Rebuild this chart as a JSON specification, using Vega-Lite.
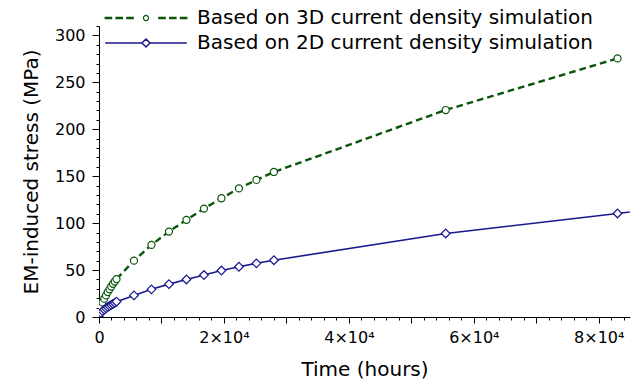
{
  "$schema": "https://vega.github.io/schema/vega-lite/v6.json",
  "width": 531,
  "height": 291,
  "autosize": {"type": "none"},
  "padding": {"left": 99, "top": 26, "right": 8, "bottom": 70},
  "background": "white",
  "config": {
    "font": "DejaVu Sans",
    "view": {"stroke": null},
    "axis": {
      "grid": false,
      "domainColor": "black",
      "tickColor": "black",
      "labelColor": "black",
      "titleColor": "black",
      "titleFontWeight": "normal",
      "labelFontSize": 16,
      "titleFontSize": 20,
      "domainWidth": 1,
      "tickWidth": 1
    }
  },
  "data": {
    "values": [
      {"series": "3D", "t": 0, "s": 0},
      {"series": "3D", "t": 280, "s": 11},
      {"series": "3D", "t": 560, "s": 15.5},
      {"series": "3D", "t": 840, "s": 19.5},
      {"series": "3D", "t": 1120, "s": 23},
      {"series": "3D", "t": 1400, "s": 26.5},
      {"series": "3D", "t": 1680, "s": 29.5},
      {"series": "3D", "t": 1960, "s": 32.5},
      {"series": "3D", "t": 2240, "s": 35.3},
      {"series": "3D", "t": 2520, "s": 37.8},
      {"series": "3D", "t": 2800, "s": 40.4},
      {"series": "3D", "t": 5600, "s": 60},
      {"series": "3D", "t": 8400, "s": 76.8},
      {"series": "3D", "t": 11200, "s": 91},
      {"series": "3D", "t": 14000, "s": 103.5},
      {"series": "3D", "t": 16800, "s": 115.5},
      {"series": "3D", "t": 19600, "s": 126.5},
      {"series": "3D", "t": 22400, "s": 137},
      {"series": "3D", "t": 25200, "s": 146},
      {"series": "3D", "t": 28000, "s": 154.5},
      {"series": "3D", "t": 55500, "s": 220.5},
      {"series": "3D", "t": 83000, "s": 275.5},
      {"series": "2D", "t": 0, "s": 0},
      {"series": "2D", "t": 280, "s": 4.2},
      {"series": "2D", "t": 560, "s": 6.2},
      {"series": "2D", "t": 840, "s": 7.8},
      {"series": "2D", "t": 1120, "s": 9.2},
      {"series": "2D", "t": 1400, "s": 10.5},
      {"series": "2D", "t": 1680, "s": 11.7},
      {"series": "2D", "t": 1960, "s": 12.8},
      {"series": "2D", "t": 2240, "s": 13.9},
      {"series": "2D", "t": 2520, "s": 15.0},
      {"series": "2D", "t": 2800, "s": 16.3},
      {"series": "2D", "t": 5600, "s": 23},
      {"series": "2D", "t": 8400, "s": 29.5},
      {"series": "2D", "t": 11200, "s": 35},
      {"series": "2D", "t": 14000, "s": 40},
      {"series": "2D", "t": 16800, "s": 44.7},
      {"series": "2D", "t": 19600, "s": 49.5},
      {"series": "2D", "t": 22400, "s": 53.5},
      {"series": "2D", "t": 25200, "s": 57.2},
      {"series": "2D", "t": 28000, "s": 60.5},
      {"series": "2D", "t": 55500, "s": 89},
      {"series": "2D", "t": 83000, "s": 110.3},
      {"series": "2D", "t": 110500, "s": 131}
    ]
  },
  "resolve": {"axis": {"x": "independent", "y": "independent"}, "scale": {"x": "shared", "y": "shared"}},
  "layer": [
    {
      "transform": [{"filter": "datum.series === '3D'"}],
      "mark": {"type": "line", "clip": true, "color": "#0b550b", "strokeWidth": 2.4, "strokeDash": [6.7, 4]},
      "encoding": {
        "x": {
          "field": "t", "type": "quantitative",
          "scale": {"domain": [0, 85000], "nice": false, "zero": false},
          "axis": {
            "orient": "bottom",
            "values": [0, 10000, 20000, 30000, 40000, 50000, 60000, 70000, 80000],
            "labelExpr": "datum.value == 0 ? '0' : (datum.value % 20000 == 0 ? (datum.value / 10000) + '×10⁴' : '')",
            "tickSize": 6,
            "labelPadding": 6,
            "labelFlush": false,
            "title": "Time (hours)",
            "titlePadding": 14
          }
        },
        "y": {
          "field": "s", "type": "quantitative",
          "scale": {"domain": [0, 310], "nice": false, "zero": false},
          "axis": {
            "orient": "left",
            "values": [0, 50, 100, 150, 200, 250, 300],
            "tickSize": 7,
            "labelPadding": 7,
            "labelFlush": false,
            "title": "EM-induced stress (MPa)",
            "titlePadding": 13
          }
        }
      }
    },
    {
      "transform": [{"filter": "datum.series === '2D'"}],
      "mark": {"type": "line", "clip": true, "color": "#18188f", "strokeWidth": 1.6},
      "encoding": {
        "x": {"field": "t", "type": "quantitative", "axis": null},
        "y": {"field": "s", "type": "quantitative", "axis": null}
      }
    },
    {
      "transform": [{"filter": "datum.series === '3D'"}],
      "mark": {"type": "point", "shape": "circle", "filled": true, "fill": "white", "stroke": "#0b550b", "size": 50, "opacity": 1, "strokeWidth": 1.2, "clip": true},
      "encoding": {
        "x": {
          "field": "t", "type": "quantitative",
          "axis": {
            "orient": "bottom",
            "values": [0, 2000, 4000, 6000, 8000, 10000, 12000, 14000, 16000, 18000, 20000, 22000, 24000, 26000, 28000, 30000, 32000, 34000, 36000, 38000, 40000, 42000, 44000, 46000, 48000, 50000, 52000, 54000, 56000, 58000, 60000, 62000, 64000, 66000, 68000, 70000, 72000, 74000, 76000, 78000, 80000, 82000, 84000],
            "labels": false,
            "domain": false,
            "tickSize": 3,
            "title": null
          }
        },
        "y": {
          "field": "s", "type": "quantitative",
          "axis": {
            "orient": "left",
            "values": [0, 10, 20, 30, 40, 50, 60, 70, 80, 90, 100, 110, 120, 130, 140, 150, 160, 170, 180, 190, 200, 210, 220, 230, 240, 250, 260, 270, 280, 290, 300, 310],
            "labels": false,
            "domain": false,
            "tickSize": 3,
            "title": null
          }
        }
      }
    },
    {
      "transform": [{"filter": "datum.series === '2D'"}],
      "mark": {"type": "point", "shape": "diamond", "filled": true, "fill": "white", "stroke": "#18188f", "size": 75, "opacity": 1, "strokeWidth": 1.2, "clip": true},
      "encoding": {
        "x": {"field": "t", "type": "quantitative", "axis": null},
        "y": {"field": "s", "type": "quantitative", "axis": null}
      }
    },
    {
      "transform": [{"filter": "datum.t > 85000"}],
      "mark": {"type": "point", "filled": true, "fill": "white", "size": 256, "opacity": 1, "clip": true},
      "encoding": {
        "x": {"field": "t", "type": "quantitative", "axis": null},
        "y": {"field": "s", "type": "quantitative", "axis": null},
        "stroke": {
          "field": "series", "type": "nominal",
          "scale": {"domain": ["3D", "2D"], "range": ["#0b550b", "#18188f"]},
          "legend": {
            "orient": "none",
            "legendX": 37,
            "legendY": -18,
            "title": null,
            "padding": 0,
            "labelFontSize": 20,
            "labelColor": "black",
            "labelLimit": 0,
            "labelOffset": 41,
            "rowPadding": 5,
            "symbolSize": 256,
            "symbolFillColor": "white",
            "labelExpr": "'Based on ' + datum.label + ' current density simulation'"
          }
        },
        "shape": {
          "field": "series", "type": "nominal",
          "scale": {"domain": ["3D", "2D"], "range": ["M-5.1,-0.075L-4.3,-0.075L-4.3,0.075L-5.1,0.075ZM-3.75,-0.075L-2.95,-0.075L-2.95,0.075L-3.75,0.075ZM-2.4,-0.075L-1.6,-0.075L-1.6,0.075L-2.4,0.075ZM1.6,-0.075L2.4,-0.075L2.4,0.075L1.6,0.075ZM2.95,-0.075L3.75,-0.075L3.75,0.075L2.95,0.075ZM4.3,-0.075L5.1,-0.075L5.1,0.075L4.3,0.075ZM0.32,0L0.296,0.122L0.226,0.226L0.122,0.296L0,0.32L-0.122,0.296L-0.226,0.226L-0.296,0.122L-0.32,0L-0.296,-0.122L-0.226,-0.226L-0.122,-0.296L0,-0.32L0.122,-0.296L0.226,-0.226L0.296,-0.122Z", "M-5.1,0L-0.5,0M0.5,0L5.1,0M0,-0.5L0.5,0L0,0.5L-0.5,0Z"]},
          "legend": {
            "orient": "none",
            "legendX": 37,
            "legendY": -18,
            "title": null,
            "padding": 0,
            "labelFontSize": 20,
            "labelColor": "black",
            "labelLimit": 0,
            "labelOffset": 41,
            "rowPadding": 5,
            "symbolSize": 256,
            "symbolFillColor": "white",
            "labelExpr": "'Based on ' + datum.label + ' current density simulation'"
          }
        },
        "strokeWidth": {
          "field": "series", "type": "ordinal",
          "scale": {"domain": ["3D", "2D"], "range": [1.2, 1.5]},
          "legend": {
            "orient": "none",
            "legendX": 37,
            "legendY": -18,
            "title": null,
            "padding": 0,
            "labelFontSize": 20,
            "labelColor": "black",
            "labelLimit": 0,
            "labelOffset": 41,
            "rowPadding": 5,
            "symbolSize": 256,
            "symbolFillColor": "white",
            "labelExpr": "'Based on ' + datum.label + ' current density simulation'"
          }
        }
      }
    }
  ]
}
